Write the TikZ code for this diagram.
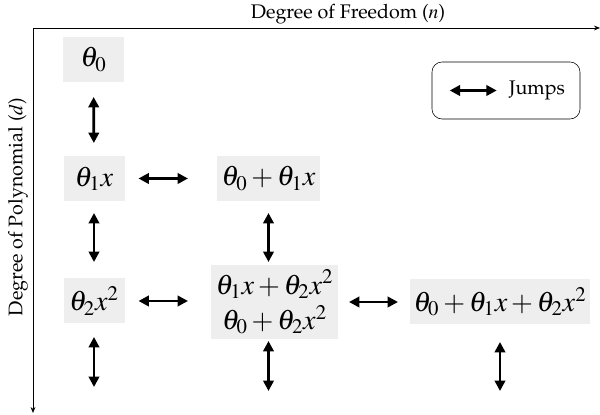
\documentclass[tikz,border=0pt]{standalone}
\usepackage{amsmath, amssymb}
\usepackage[T1]{fontenc}
\usepackage{mathptmx}
\renewcommand{\rmdefault}{ppl}
\usepackage{tikz}
\usetikzlibrary{positioning, arrows.meta, calc}

\begin{document}
\begin{tikzpicture}[
    term/.style={fill=gray!13, inner xsep=0.12cm, minimum width=1.525cm, minimum height=1.125cm, font=\fontsize{20}{25}\selectfont, align=center},
    jump/.style={{Triangle[length=0.26cm, width=0.26cm]}-{Triangle[length=0.26cm, width=0.26cm]}, line width=1.9pt},
    lbl/.style={font=\fontsize{14}{16}\selectfont}
]
    \useasboundingbox (0,0) rectangle (15,10.375);
    % axes
    \coordinate (origin) at (0.825,9.675);
    \coordinate (xend) at (15,9.675);
    \coordinate (yend) at (0.825,0.05);
    \draw[-{Stealth[length=0.15cm, width=0.12cm]}, line width=0.5pt] (origin) -- (xend);
    \draw[-{Stealth[length=0.15cm, width=0.12cm]}, line width=0.5pt] (origin) -- (yend);
    \node[lbl] (xlabel) at (8.7,10.03) {Degree of Freedom ($n$)};
    \node[lbl, rotate=90] (ylabel) at (0.45,5.2) {Degree of Polynomial ($d$)};

    % terms
    \node[term] (t0) at (2.3375,8.8875) {$\theta_0$};
    \node[term] (t1) at (2.35,5.9125) {$\theta_1 x$};
    \node[term] (t01) at (6.7125,5.9125) {$\theta_0 + \theta_1 x$};
    \node[term] (t2) at (2.35,2.85) {$\theta_2 x^2$};
    \node[term, minimum height=1.75cm] (t12) at (6.8625,2.825) {$\theta_1 x + \theta_2 x^2$\\ $\theta_0 + \theta_2 x^2$};
    \node[term, inner xsep=0.1cm] (t012) at (12.5,2.8375) {$\theta_0 + \theta_1 x + \theta_2 x^2$};

    % legend
    \node[draw, rounded corners=0.25cm, minimum width=3.7cm, minimum height=1.425cm] (legend) at (12.65,8.1125) {};
    \coordinate (la) at ($(legend.west)+(0.45,0)$);
    \coordinate (lb) at ($(legend.west)+(1.625,0)$);
    \draw[jump] (la) -- (lb);
    \node[lbl, right=0.3cm of lb, inner sep=0pt] (jumps) {Jumps};

    % jumps between terms
    \draw[jump, shorten <=0.9375cm, shorten >=0.8875cm] (t0.center) -- (t1.center);
    \draw[jump, shorten <=1.1125cm, shorten >=2.0125cm] (t1.center) -- (t01.center);
    \draw[jump, shorten <=0.8625cm, shorten >=0.975cm] (t1.center) -- (t2.center);
    \draw[jump, shorten <=0.8625cm, shorten >=1.0cm] (t01.center) -- (t01.center |- t12.center);
    \draw[jump, shorten <=1.1125cm, shorten >=2.1625cm] (t2.center) -- (t2.center -| t12.center);
    \draw[jump, shorten <=1.8625cm, shorten >=2.55cm] (t12.center) -- (t12.center -| t012.center);

    % open ends below
    \coordinate (e2) at (2.35,0.7);
    \coordinate (e12) at (6.7125,0.6);
    \coordinate (e012) at (12.5,0.6);
    \draw[jump, shorten <=0.9cm] (t2.center) -- (e2);
    \draw[jump, shorten <=0.975cm] (t01.center |- t12.center) -- (e12);
    \draw[jump, shorten <=1.0125cm] (t012.center) -- (e012);
\end{tikzpicture}
\end{document}
